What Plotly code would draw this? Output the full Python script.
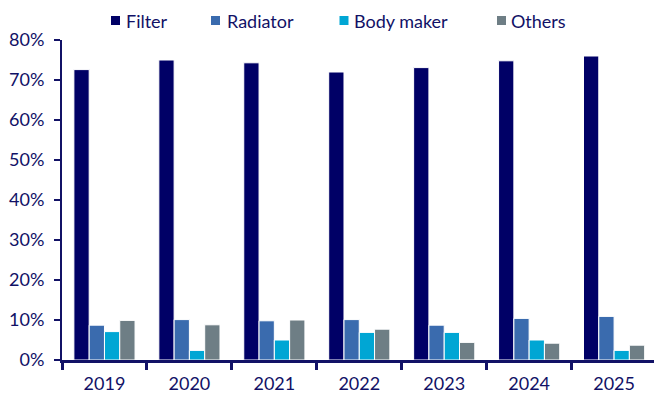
import plotly.graph_objects as go

years = ["2019", "2020", "2021", "2022", "2023", "2024", "2025"]
filter_vals = [72.6, 75.0, 74.3, 72.0, 73.1, 74.8, 76.0]
radiator_vals = [8.7, 10.1, 9.8, 10.1, 8.7, 10.4, 10.9]
body_maker_vals = [7.1, 2.4, 5.0, 6.9, 6.9, 5.0, 2.4]
others_vals = [9.9, 8.8, 10.0, 7.7, 4.4, 4.2, 3.7]

series_names = ["Filter", "Radiator", "Body maker", "Others"]
series_vals = [filter_vals, radiator_vals, body_maker_vals, others_vals]
series_colors = ["#000066", "#3A6BAE", "#00A6D4", "#6E7E85"]

navy = "#111166"
W, H = 654, 394
L, R, T, B = 62, 0, 40, 34
pw, ph = W - L - R, H - T - B

def px_x(px):
    return (px - L) / pw

def px_y(py):
    return (H - B - py) / ph

fig = go.Figure()
for name, vals, col in zip(series_names, series_vals, series_colors):
    fig.add_trace(go.Bar(
        x=years, y=vals, name=name, showlegend=False,
        marker=dict(color=col, line=dict(color="white", width=1)),
    ))

# legend drawn as squares + text
sq_left = [111, 211, 339.5, 497]
txt_left = [126, 227, 354, 510.5]
shapes, annotations = [], []
for name, col, sx, tx in zip(series_names, series_colors, sq_left, txt_left):
    shapes.append(dict(type="rect", xref="paper", yref="paper",
                       x0=px_x(sx), x1=px_x(sx + 9), y0=px_y(25), y1=px_y(16),
                       fillcolor=col, line=dict(width=0)))
    annotations.append(dict(text=name, xref="paper", yref="paper",
                            x=px_x(tx - 1), y=px_y(21), xanchor="left", yanchor="middle",
                            showarrow=False, borderpad=0,
                            font=dict(family="Lato", size=18, color=navy)))

fig.update_layout(
    width=W, height=H,
    margin=dict(l=L, r=R, t=T, b=B, pad=0),
    paper_bgcolor="white", plot_bgcolor="white",
    barmode="group", bargap=0.28, bargroupgap=0.0,
    font=dict(family="Lato", size=18, color=navy),
    showlegend=False,
    shapes=shapes, annotations=annotations,
    xaxis=dict(
        range=[-0.5, 6.47], automargin=False,
        showline=True, linecolor=navy, linewidth=3,
        ticks="outside", tickson="boundaries", ticklen=7, tickwidth=3, tickcolor=navy,
        ticklabelstandoff=5,
        showgrid=False, tickfont=dict(size=18, color=navy),
    ),
    yaxis=dict(
        range=[0, 80], dtick=10, ticksuffix="%", automargin=False,
        showline=True, linecolor=navy, linewidth=2,
        ticks="outside", ticklen=6, tickwidth=2, tickcolor=navy,
        ticklabelstandoff=6,
        showgrid=False, zeroline=False, tickfont=dict(size=18, color=navy),
    ),
)

fig.write_html("out.html")
